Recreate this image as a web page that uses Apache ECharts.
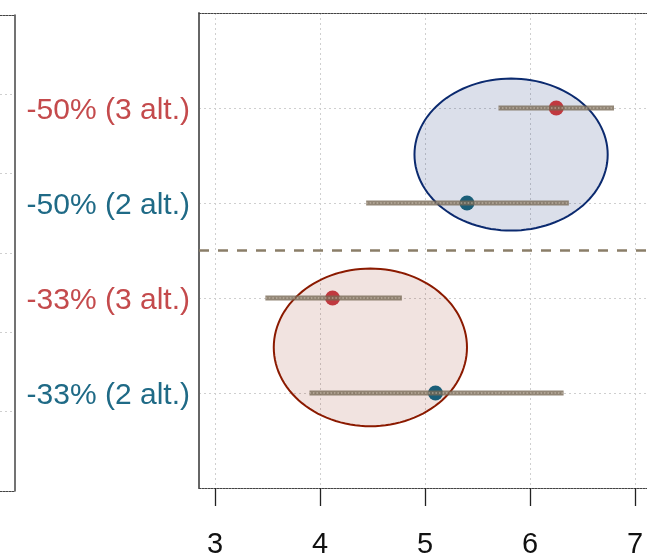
<!DOCTYPE html>
<html><head><meta charset="utf-8">
<script src="https://cdn.jsdelivr.net/npm/echarts@6/dist/echarts.min.js"></script>
<style>html,body{margin:0;padding:0;background:#fff}#c{width:647px;height:557px}</style>
</head><body><div id="c"></div>
<script>
// categories from bottom (y=1) to top (y=4)
const categories = ['-33% (2 alt.)', '-33% (3 alt.)', '-50% (2 alt.)', '-50% (3 alt.)'];
const categoryGroup = ['b', 'r', 'b', 'r'];
const estimates = [5.10, 4.12, 5.40, 6.25];
const ciLower = [3.90, 3.48, 4.44, 5.70];
const ciUpper = [6.32, 4.78, 6.37, 6.80];
const ellipseCenterX = [4.48, 5.82];
const ellipseCenterY = [1.48, 3.51];
const ellipseRadiusX = [0.92, 0.92];
const ellipseRadiusY = [0.83, 0.80];
const ellipseGroup = ['r', 'b'];
const xTicks = [3, 4, 5, 6, 7];
const dividerY = 2.5;

const RED = '#c0393f', TEAL = '#1a5e78';
const LABEL_RED = '#c44a4c', LABEL_TEAL = '#1f6a86';
const FONT = '"Liberation Sans", Arial, sans-serif';

const pointData = estimates.map((v, i) => [v, i + 1, categoryGroup[i]]);
const barData = ciLower.map((v, i) => [v, ciUpper[i], i + 1]);
const ellipseData = ellipseCenterX.map((v, i) => [v, ellipseCenterY[i], ellipseRadiusX[i], ellipseRadiusY[i], i]);

const chart = echarts.init(document.getElementById('c'), null, {renderer: 'canvas'});
chart.setOption({
  animation: false,
  backgroundColor: '#fff',
  grid: [
    {left: 199, right: -9, top: 13, bottom: 69, containLabel: false, outerBoundsMode: 'none'},
    {left: -60, right: 632, top: 15, bottom: 66, containLabel: false, outerBoundsMode: 'none'}
  ],
  xAxis: [
    {
      gridIndex: 0, type: 'value', min: 2.848, max: 7.2, position: 'bottom',
      axisLine: {show: true, lineStyle: {color: '#444', width: 1, type: [2, 1]}},
      axisTick: {show: true, customValues: xTicks, length: 18, lineStyle: {color: '#222', width: 1.3}},
      axisLabel: {customValues: xTicks, margin: 42, fontSize: 29, color: '#111', fontFamily: FONT},
      splitLine: {show: true, lineStyle: {color: '#cfcfcf', width: 1, type: [2, 3]}}
    },
    {
      gridIndex: 0, type: 'value', min: 2.848, max: 7.2, position: 'top',
      axisLine: {show: true, onZero: false, lineStyle: {color: '#444', width: 1, type: [2, 1]}},
      axisTick: {show: false}, axisLabel: {show: false}, splitLine: {show: false}
    },
    {
      gridIndex: 1, type: 'value', min: 0, max: 1, position: 'bottom',
      axisLine: {show: true, onZero: false, lineStyle: {color: '#444', width: 1, type: [2, 1]}},
      axisTick: {show: false}, axisLabel: {show: false}, splitLine: {show: false}
    },
    {
      gridIndex: 1, type: 'value', min: 0, max: 1, position: 'top',
      axisLine: {show: true, onZero: false, lineStyle: {color: '#444', width: 1, type: [2, 1]}},
      axisTick: {show: false}, axisLabel: {show: false}, splitLine: {show: false}
    }
  ],
  yAxis: [
    {
      gridIndex: 0, type: 'value', min: 0, max: 5, interval: 1, position: 'left',
      axisLine: {show: true, onZero: false, lineStyle: {color: '#666', width: 2}},
      axisTick: {show: false},
      axisLabel: {
        margin: 9, fontFamily: FONT,
        formatter: function (v) {
          const i = Math.round(v) - 1;
          if (Math.abs(v - Math.round(v)) > 1e-6 || i < 0 || i >= categories.length) return '';
          return '{' + categoryGroup[i] + '|' + categories[i] + '}';
        },
        rich: {
          r: {color: LABEL_RED, fontSize: 30, fontFamily: FONT, padding: [6, 0, 0, 0]},
          b: {color: LABEL_TEAL, fontSize: 30, fontFamily: FONT, padding: [6, 0, 0, 0]}
        }
      },
      splitLine: {show: true, lineStyle: {color: '#cfcfcf', width: 1, type: [2, 3]}}
    },
    {
      gridIndex: 1, type: 'value', min: 0, max: 6, interval: 1, position: 'right',
      axisLine: {show: true, onZero: false, lineStyle: {color: '#444', width: 1.5}},
      axisTick: {show: false}, axisLabel: {show: false},
      splitLine: {show: true, lineStyle: {color: '#cfcfcf', width: 1, type: [2, 3]}}
    }
  ],
  series: [
    {
      type: 'custom', name: 'ellipses', xAxisIndex: 0, yAxisIndex: 0, z: 2,
      data: ellipseData,
      encode: {x: 0, y: 1},
      renderItem: function (params, api) {
        const cx = api.value(0), cy = api.value(1), rx = api.value(2), ry = api.value(3);
        const g = ellipseGroup[api.value(4)];
        const pts = [];
        const N = 120;
        for (let k = 0; k < N; k++) {
          const t = 2 * Math.PI * k / N;
          pts.push(api.coord([cx + rx * Math.cos(t), cy + ry * Math.sin(t)]));
        }
        return {
          type: 'polygon', shape: {points: pts},
          style: g === 'b'
            ? {fill: 'rgba(11,42,111,0.15)', stroke: '#0b2a6f', lineWidth: 2}
            : {fill: 'rgba(139,26,0,0.12)', stroke: '#8b1a00', lineWidth: 2}
        };
      }
    },
    {
      type: 'scatter', name: 'estimates', xAxisIndex: 0, yAxisIndex: 0, z: 3,
      data: pointData, symbolSize: 15,
      itemStyle: {color: function (p) { return p.data[2] === 'b' ? TEAL : RED; }, opacity: 1}
    },
    {
      type: 'custom', name: 'intervals', xAxisIndex: 0, yAxisIndex: 0, z: 4,
      data: barData,
      encode: {x: [0, 1], y: 2},
      renderItem: function (params, api) {
        const a = api.coord([api.value(0), api.value(2)]);
        const b = api.coord([api.value(1), api.value(2)]);
        return {
          type: 'group',
          children: [
            {type: 'line', shape: {x1: a[0], y1: a[1], x2: b[0], y2: b[1]},
             style: {stroke: 'rgba(120,105,85,0.8)', lineWidth: 5}},
            {type: 'line', shape: {x1: a[0], y1: a[1], x2: b[0], y2: b[1]},
             style: {stroke: 'rgba(225,215,200,0.75)', lineWidth: 1.2, lineDash: [1.5, 2]}}
          ]
        };
      },
      markLine: {
        silent: true, symbol: 'none', label: {show: false},
        lineStyle: {color: '#8a7e68', width: 2.5, type: [10, 9]},
        data: [{yAxis: dividerY}]
      }
    }
  ]
});
</script>
</body></html>
